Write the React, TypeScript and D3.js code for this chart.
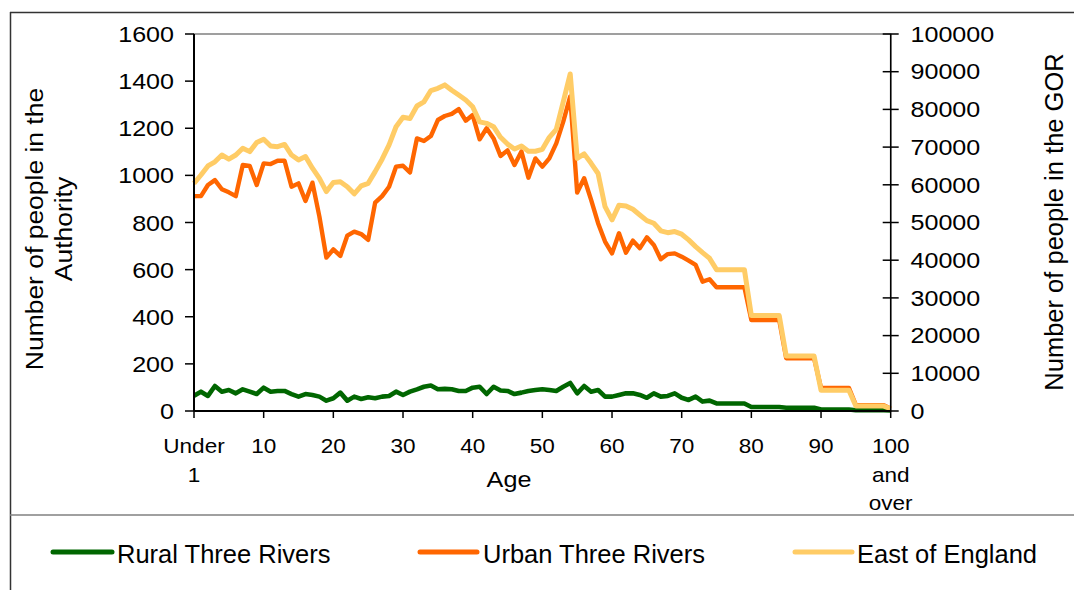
import React from "react";
import * as d3 from "d3";

const ages: string[] = ["Under 1", ...d3.range(1, 100).map(String), "100 and over"];

const rural: number[] = [
  65, 82, 64, 106, 82, 89, 75, 92, 82, 72,
  99, 82, 85, 85, 72, 61, 72, 68, 61, 44,
  54, 78, 44, 61, 51, 58, 54, 61, 64, 82,
  68, 82, 92, 103, 108, 92, 94, 92, 85, 85,
  99, 103, 72, 103, 87, 85, 72, 78, 85, 89,
  92, 89, 85, 103, 119, 75, 106, 82, 89, 61,
  61, 68, 75, 75, 68, 56, 75, 61, 64, 75,
  56, 47, 61, 40, 44, 32, 32, 32, 32, 32,
  17, 17, 17, 17, 17, 14, 14, 14, 14, 14,
  6, 6, 6, 6, 6, 3, 3, 3, 3, 3,
  2,
];

const urban: number[] = [
  912, 912, 959, 980, 941, 928, 912, 1044, 1040, 959,
  1051, 1048, 1062, 1062, 952, 966, 891, 969, 825, 651,
  686, 658, 744, 761, 751, 726, 884, 912, 952, 1037,
  1041, 1012, 1157, 1146, 1167, 1235, 1252, 1261, 1281, 1232,
  1256, 1153, 1200, 1157, 1082, 1106, 1044, 1101, 990, 1072,
  1037, 1072, 1136, 1228, 1335, 927, 988, 896, 797, 719,
  669, 754, 672, 723, 691, 737, 705, 644, 666, 669,
  655, 638, 620, 549, 559, 525, 525, 525, 525, 525,
  386, 386, 386, 386, 386, 224, 224, 224, 224, 224,
  98, 98, 98, 98, 98, 25, 25, 25, 25, 25,
  10,
];

const east: number[] = [
  60400, 62600, 65000, 66100, 67900, 66800, 67900, 69700, 68800, 71200,
  72100, 70300, 70100, 70700, 67900, 66600, 67500, 64400, 61700, 58200,
  60600, 60800, 59500, 57600, 59700, 60400, 63500, 66800, 70600, 75400,
  77900, 77600, 80900, 82000, 85000, 85600, 86500, 85100, 83800, 82500,
  80700, 76700, 76300, 75400, 72600, 70800, 69500, 70300, 68900, 68900,
  69400, 72600, 74700, 82000, 89400, 67000, 68200, 65700, 63000, 54200,
  50700, 54600, 54400, 53500, 52000, 50500, 49800, 47800, 47300, 47600,
  46900, 45400, 43600, 42000, 40500, 37500, 37500, 37500, 37500, 37500,
  25300, 25300, 25300, 25300, 25300, 14600, 14600, 14600, 14600, 14600,
  5500, 5500, 5500, 5500, 5500, 1300, 1300, 1300, 1300, 1300,
  600,
];

const leftTicks: number[] = d3.range(0, 1601, 200);
const rightTicks: number[] = d3.range(0, 100001, 10000);
const xTickIdx: number[] = d3.range(0, 101, 10);
const xTickLabels: string[][] = [["Under", "1"], ["10"], ["20"], ["30"], ["40"], ["50"], ["60"], ["70"], ["80"], ["90"], ["100", "and", "over"]];

const seriesNames = ["Rural Three Rivers", "Urban Three Rivers", "East of England"];
const colors = ["#006600", "#FF6600", "#FFCC66"];

const FONT = "'Liberation Sans', Arial, Helvetica, sans-serif";

function T({ x, y, size, sx = 1, anchor = "start", rot = 0, children }: any) {
  return (
    <text
      transform={`translate(${x},${y}) rotate(${rot}) scale(${sx},1)`}
      fontSize={size}
      textAnchor={anchor}
      fill="#000"
    >
      {children}
    </text>
  );
}

export default function App() {
  const L = 194, R = 890.7, TOP = 34, BOT = 411;
  const x = d3.scaleLinear().domain([0, ages.length - 1]).range([L, R]);
  const yL = d3.scaleLinear().domain([0, 1600]).range([BOT, TOP]);
  const yR = d3.scaleLinear().domain([0, 100000]).range([BOT, TOP]);

  const lineL = d3.line<number>().x((_, i) => x(i)).y((d) => yL(d));
  const lineR = d3.line<number>().x((_, i) => x(i)).y((d) => yR(d));

  const legend = [
    { x1: 53, x2: 112, tx: 117 },
    { x1: 420, x2: 477, tx: 483 },
    { x1: 795, x2: 852, tx: 857 },
  ];

  return (
    <svg
      width={1074}
      height={590}
      style={{ position: "absolute", left: 0, top: 0, background: "#fff" }}
      fontFamily={FONT}
    >
      <rect x={0} y={0} width={1074} height={590} fill="#fff" />
      {/* outer frame */}
      <line x1={10.5} y1={12} x2={10.5} y2={590} stroke="#333" strokeWidth={1.5} />
      <line x1={10} y1={12.5} x2={1074} y2={12.5} stroke="#333" strokeWidth={1.5} />
      <line x1={10} y1={515} x2={1074} y2={515} stroke="#808080" strokeWidth={1.5} />

      {/* plot area border */}
      <rect x={L} y={TOP} width={R - L} height={BOT - TOP} fill="none" stroke="#808080" strokeWidth={1.5} />

      {/* series */}
      <path d={lineL(rural) || ""} fill="none" stroke={colors[0]} strokeWidth={4.6} strokeLinejoin="round" />
      <path d={lineL(urban) || ""} fill="none" stroke={colors[1]} strokeWidth={4.4} strokeLinejoin="round" />
      <path d={lineR(east) || ""} fill="none" stroke={colors[2]} strokeWidth={5} strokeLinejoin="round" />

      {/* left axis */}
      <line x1={L} y1={TOP} x2={L} y2={BOT} stroke="#000" strokeWidth={2} />
      {leftTicks.map((t) => (
        <g key={"l" + t}>
          <line x1={L - 9} x2={L} y1={yL(t)} y2={yL(t)} stroke="#000" strokeWidth={1.5} />
          <T x={174} y={yL(t) + 8} size={22} sx={1.14} anchor="end">{t}</T>
        </g>
      ))}

      {/* right axis */}
      <line x1={R} y1={TOP} x2={R} y2={BOT} stroke="#000" strokeWidth={1.5} />
      {rightTicks.map((t) => (
        <g key={"r" + t}>
          <line x1={R - 8} x2={R + 8} y1={yR(t)} y2={yR(t)} stroke="#000" strokeWidth={1.5} />
          <T x={910.5} y={yR(t) + 7.7} size={22} sx={1.14}>{t}</T>
        </g>
      ))}

      {/* bottom axis */}
      <line x1={L} y1={BOT} x2={R} y2={BOT} stroke="#000" strokeWidth={2} />
      {xTickIdx.map((idx, k) => (
        <g key={"x" + idx}>
          <line x1={x(idx)} x2={x(idx)} y1={BOT} y2={BOT + 7} stroke="#000" strokeWidth={1.5} />
          {xTickLabels[k].map((s, j) => (
            <T key={j} x={x(idx)} y={453 + j * 28.7} size={20.5} sx={1.1} anchor="middle">{s}</T>
          ))}
        </g>
      ))}

      {/* axis titles */}
      <T x={509} y={487} size={22.5} sx={1.12} anchor="middle">Age</T>
      <T x={42.5} y={229} size={24.5} sx={1.08} anchor="middle" rot={-90}>Number of people in the</T>
      <T x={71.5} y={229} size={24.5} sx={1.08} anchor="middle" rot={-90}>Authority</T>
      <T x={1062.5} y={222} size={25.5} anchor="middle" rot={-90}>Number of people in the GOR</T>

      {/* legend */}
      {legend.map((g, i) => (
        <g key={"lg" + i}>
          <line x1={g.x1} x2={g.x2} y1={552} y2={552} stroke={colors[i]} strokeWidth={5} strokeLinecap="round" />
          <T x={g.tx} y={563} size={25.5}>{seriesNames[i]}</T>
        </g>
      ))}
    </svg>
  );
}
